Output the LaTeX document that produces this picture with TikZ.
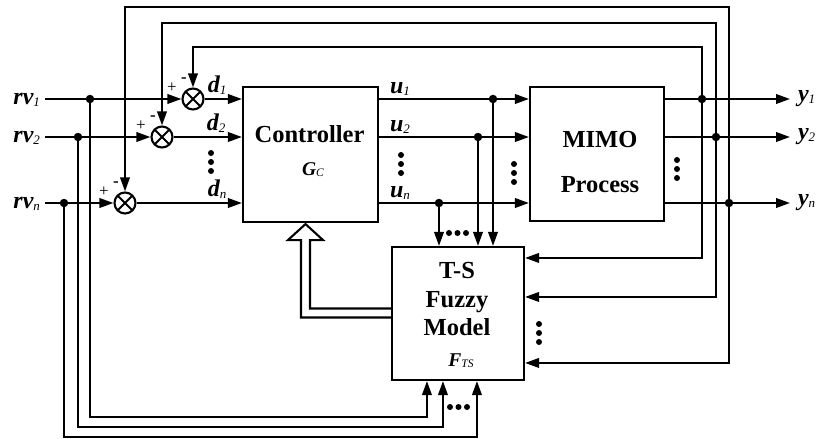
\documentclass[tikz,border=0pt]{standalone}
\usepackage{fontspec}
\setmainfont{Liberation Serif}
\usetikzlibrary{arrows.meta,calc}
\newcommand{\lbl}[2]{{\bfseries\itshape #1}\raisebox{-2.5pt}{\fontsize{13}{13}\selectfont\itshape #2}}
\newcommand{\gsub}[2]{{\bfseries\itshape #1}\raisebox{-1.5pt}{\fontsize{11.5}{11.5}\selectfont\itshape #2}}
\newcommand{\vdts}[2]{\foreach \k in {0,1,2} {\fill (#1,#2+9*\k) circle (3pt);}}
\newcommand{\hdts}[2]{\foreach \k in {0,1,2} {\fill (#1+8.5*\k,#2) circle (3pt);}}
\begin{document}
\begin{tikzpicture}[x=1pt,y=-1pt,line width=2.1pt,>={Triangle[length=14pt,width=9.5pt]},
 blk/.style={draw,line width=2.1pt,inner sep=0pt},
 sumj/.style={circle,draw,line width=2.1pt,minimum size=21pt,inner sep=0pt,
   path picture={\draw[line width=2.1pt]
     ($(path picture bounding box.center)+(45:10.5pt)$) -- ($(path picture bounding box.center)+(225:10.5pt)$)
     ($(path picture bounding box.center)+(135:10.5pt)$) -- ($(path picture bounding box.center)+(-45:10.5pt)$);}},
 junc/.style={circle,fill,minimum size=8.5pt,inner sep=0pt},
 lab/.style={font=\fontsize{24}{24}\selectfont,inner sep=0pt},
 btxt/.style={font=\fontsize{24.5}{24.5}\selectfont\bfseries,inner sep=0pt},
 stxt/.style={font=\fontsize{19.5}{19.5}\selectfont,inner sep=0pt},
 pm/.style={font=\fontsize{17}{17}\selectfont,inner sep=0pt}]
\useasboundingbox (0,0) rectangle (820,439);

% blocks
\node[blk,minimum width=135pt,minimum height=135pt] (ctrl) at (310.5,154.5) {};
\node[blk,minimum width=134pt,minimum height=134pt] (mimo) at (597,154) {};
\node[blk,minimum width=132pt,minimum height=133pt] (ts) at (458,313.5) {};

\node[btxt,anchor=base] (tctrl) at (309.5,142) {Controller};
\node[stxt,anchor=base] (tgc) at (313,175) {\gsub{G}{C}};
\node[btxt,anchor=base] (tmimo) at (600,147) {MIMO};
\node[btxt,anchor=base] (tproc) at (600,192) {Process};
\node[btxt,anchor=base] (tts) at (457,278) {T-S};
\node[btxt,anchor=base] (tfuz) at (457,307) {Fuzzy};
\node[btxt,anchor=base] (tmod) at (457,335) {Model};
\node[stxt,anchor=base] (tfts) at (461,366) {\gsub{F}{TS}};

% summing junctions
\node[sumj] (s1) at (193,99) {};
\node[sumj] (s2) at (162,137) {};
\node[sumj] (sn) at (125,203) {};
\foreach \s in {s1,s2,sn} {
  \node[pm] at ($(\s)+(-21,-11)$) {+};
  \node[pm,font=\fontsize{17}{17}\selectfont\bfseries] at ($(\s)+(-9,-19)$) {-};
}

% reference inputs
\node[lab,anchor=base east] (rv1) at (41,104) {\lbl{rv}{1}};
\node[lab,anchor=base east] (rv2) at (41,142) {\lbl{rv}{2}};
\node[lab,anchor=base east] (rvn) at (41,208) {\lbl{rv}{n}};
\node[junc] (r1) at (90,99) {};
\node[junc] (r2) at (78,137) {};
\node[junc] (rn) at (64,203) {};
\draw[->] (rv1.east |- s1) ++(4,0) -- (s1.west);
\draw[->] (rv2.east |- s2) ++(4,0) -- (s2.west);
\draw[->] (rvn.east |- sn) ++(4,0) -- (sn.west);

% errors to controller
\draw[->] (s1.east) -- (s1.east -| ctrl.west);
\draw[->] (s2.east) -- (s2.east -| ctrl.west);
\draw[->] (sn.east) -- (sn.east -| ctrl.west);
\node[lab,anchor=base] (d1) at (217,92) {\lbl{d}{1}};
\node[lab,anchor=base] (d2) at (216,130) {\lbl{d}{2}};
\node[lab,anchor=base] (dn) at (217,196) {\lbl{d}{n}};
\vdts{211}{153}

% controls to process
\draw[->] (ctrl.east |- s1) -- (mimo.west |- s1);
\draw[->] (ctrl.east |- s2) -- (mimo.west |- s2);
\draw[->] (ctrl.east |- sn) -- (mimo.west |- sn);
\node[lab,anchor=base west] (u1) at (389,93) {\lbl{u}{1}};
\node[lab,anchor=base west] (u2) at (389,131) {\lbl{u}{2}};
\node[lab,anchor=base west] (un) at (389,197) {\lbl{u}{n}};
\vdts{401}{155}
\vdts{514}{164}
\node[junc] (a1) at (493,99) {};
\node[junc] (a2) at (478,137) {};
\node[junc] (an) at (439,203) {};
\draw[->] (a1.center) -- (a1.center |- ts.north);
\draw[->] (a2.center) -- (a2.center |- ts.north);
\draw[->] (an.center) -- (an.center |- ts.north);
\hdts{449}{233}

% outputs
\coordinate (o1) at (790,99);
\coordinate (o2) at (790,137);
\coordinate (on) at (790,203);
\draw[->] (mimo.east |- o1) -- (o1);
\draw[->] (mimo.east |- o2) -- (o2);
\draw[->] (mimo.east |- on) -- (on);
\node[lab,anchor=base west] (y1) at (797,101) {\lbl{y}{1}};
\node[lab,anchor=base west] (y2) at (797,139) {\lbl{y}{2}};
\node[lab,anchor=base west] (yn) at (797,205) {\lbl{y}{n}};
\vdts{677}{160}
\node[junc] (j1) at (702,99) {};
\node[junc] (j2) at (716,137) {};
\node[junc] (jn) at (729,203) {};

% feedback to junctions
\draw[->] (j1.center) -- ++(0,-52) -| (s1.north);
\draw[->] (j2.center) -- ++(0,-114) -| (s2.north);
\draw[->] (jn.center) -- ++(0,-196) -| (sn.north);

% feedback to T-S model
\draw[->] (j1.center) |- ($(ts.north east)+(0,12)$);
\draw[->] (j2.center) |- ($(ts.north east)+(0,51)$);
\draw[->] (jn.center) |- ($(ts.north east)+(0,117)$);
\vdts{539}{324}

% references to T-S model
\draw[->] (r1.center) -- ++(0,318) -| ($(ts.south west)+(36,0)$);
\draw[->] (r2.center) -- ++(0,290) -| ($(ts.south west)+(52,0)$);
\draw[->] (rn.center) -- ++(0,234) -| ($(ts.south west)+(86,0)$);
\hdts{450}{407}

% hollow arrow from T-S model to controller
\draw[line width=2.1pt,line join=miter] ($(ts.west)+(0,-5)$) -| ($(ctrl.south)+(-0.5,17)$)
  -- ($(ctrl.south)+(12.5,17)$) -- ($(ctrl.south)+(-5,1)$) -- ($(ctrl.south)+(-22.5,17)$)
  -- ($(ctrl.south)+(-9.5,17)$) |- ($(ts.west)+(0,4)$);
\end{tikzpicture}
\end{document}
